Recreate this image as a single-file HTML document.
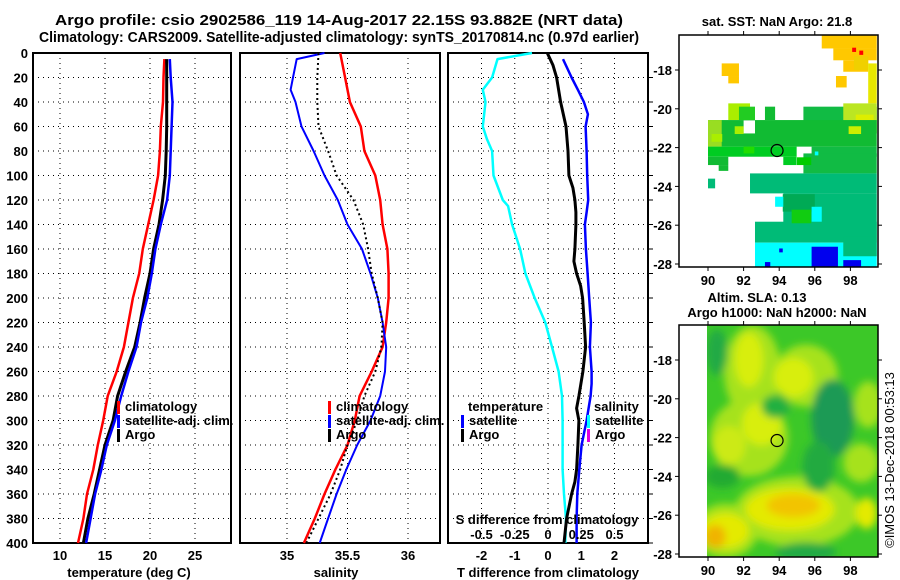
<!DOCTYPE html>
<html><head><meta charset="utf-8"><style>
body{margin:0;background:#fff;}
svg{display:block;font-family:"Liberation Sans",sans-serif;font-weight:bold;}
</style></head><body>
<svg id="fig" width="900" height="580" viewBox="0 0 900 580" xmlns="http://www.w3.org/2000/svg">
<rect width="900" height="580" fill="#fff"/>
<text x="339" y="25" font-size="14.5" text-anchor="middle" textLength="568" lengthAdjust="spacingAndGlyphs">Argo profile: csio 2902586_119 14-Aug-2017 22.15S 93.882E (NRT data)</text>
<text x="339" y="42" font-size="14.5" text-anchor="middle" textLength="600" lengthAdjust="spacingAndGlyphs">Climatology: CARS2009. Satellite-adjusted climatology: synTS_20170814.nc (0.97d earlier)</text>
<g id="g"></g>
</svg>
<script>
// ---------- data ----------
const depthTicks = [0,20,40,60,80,100,120,140,160,180,200,220,240,260,280,300,320,340,360,380,400];
const tempTicks = [10,15,20,25];
const salTicks = [35,35.5,36];
const salTickLabels = ['35','35.5','36'];
const tdiffTicks = [-2,-1,0,1,2];
const sdiffTicks = [-0.5,-0.25,0,0.25,0.5];
const sdiffTickLabels = ['-0.5','-0.25','0','0.25','0.5'];

const tempDepth = [5,20,40,60,80,100,120,140,160,180,200,220,240,260,280,300,320,340,360,380,400];
const tempClim = [21.6,21.5,21.44,21.2,21.1,20.9,20.4,19.8,19.2,18.8,18.1,17.6,17.1,16.3,15.3,14.8,14.2,13.7,13.0,12.6,12.0];
const tempArgo = [21.85,21.85,21.85,21.85,21.8,21.7,21.4,21.0,20.4,20.0,19.4,18.9,18.3,17.3,16.4,15.9,15.0,14.4,13.8,13.1,12.6];
const tempSat = [22.2,22.3,22.5,22.4,22.3,22.2,21.9,21.2,20.6,20.2,19.7,19.0,18.5,17.6,16.8,16.1,15.2,14.6,13.9,13.4,12.9];

const salDepth = [0,20,40,60,80,100,120,140,160,180,200,220,240,260,280,300,320,340,360,380,400];
const salClim = [35.44,35.48,35.52,35.61,35.64,35.73,35.77,35.79,35.83,35.84,35.84,35.82,35.79,35.70,35.60,35.56,35.50,35.40,35.31,35.23,35.14];
const salArgo = [35.26,35.25,35.25,35.26,35.34,35.41,35.55,35.63,35.67,35.70,35.75,35.79,35.78,35.73,35.64,35.58,35.50,35.44,35.36,35.26,35.16];
const salSatDepth = [0,5,20,30,40,60,80,100,120,140,160,180,200,220,240,260,280,300,320,340,360,380,400];
const salSat = [35.31,35.08,35.05,35.03,35.07,35.12,35.22,35.31,35.42,35.50,35.62,35.69,35.75,35.79,35.82,35.81,35.77,35.69,35.58,35.49,35.41,35.34,35.27];

const tdArgoDepth = [0,10,20,40,60,80,100,110,120,130,140,160,170,180,190,200,220,240,260,275,280,290,300,320,340,350,360,380,400];
const tdArgo = [-0.02,0.15,0.26,0.38,0.54,0.6,0.63,0.75,0.81,0.84,0.84,0.81,0.78,0.86,0.98,1.04,1.09,1.13,1.05,0.96,0.93,0.86,0.93,0.9,0.86,0.81,0.71,0.56,0.48];
const tdSatDepth = [5,20,30,40,50,60,80,100,120,130,140,160,180,200,220,240,260,270,280,300,320,340,360,380,400];
const tdSat = [0.45,0.71,0.9,1.08,1.2,1.13,1.16,1.18,1.21,1.16,1.11,1.14,1.19,1.24,1.29,1.26,1.31,1.31,1.28,1.16,1.01,0.94,0.88,0.86,0.86];
const sdSatDepth = [0,5,20,30,40,60,70,80,100,120,125,140,160,180,200,220,240,260,280,300,320,340,360,380,400];
const sdSat = [-0.12,-0.38,-0.42,-0.49,-0.47,-0.49,-0.46,-0.42,-0.41,-0.34,-0.30,-0.27,-0.21,-0.17,-0.10,-0.02,0.03,0.08,0.105,0.11,0.11,0.11,0.12,0.135,0.13];

const lonTicks = [90,92,94,96,98];
const latTicks = [-18,-20,-22,-24,-26,-28];
const argoLon = 93.88, argoLat = -22.15;
// SST cells: [lon1, lat1, lon2, lat2, colour]
const sstCells = [
 [96.39,-16.2,99.48,-16.89,'#ffc800'],[97.04,-16.89,99.48,-17.5,'#ffc800'],[97.6,-17.5,99.0,-18.09,'#ffc800'],
 [98.2,-17.3,99.0,-18.0,'#f0d000'],[99.0,-17.66,99.48,-19.72,'#e8e800'],
 [90.77,-17.66,91.74,-18.31,'#ffc800'],[91.14,-18.31,91.74,-18.69,'#ffc800'],[97.19,-18.31,97.79,-18.9,'#ffc800'],
 [98.1,-16.85,98.32,-17.07,'#ff0000'],[98.5,-17.0,98.72,-17.22,'#ff0000'],
 [91.14,-19.72,92.36,-20.58,'#aaee00'],[91.74,-19.89,92.64,-20.58,'#22cc22'],[93.2,-19.89,93.77,-20.58,'#11bb33'],
 [95.36,-19.89,99.48,-21.27,'#11bb44'],[97.6,-19.72,99.48,-21.27,'#bbe622'],[98.3,-20.3,99.3,-21.0,'#ddee00'],
 [90,-20.58,99.48,-21.95,'#11bb33'],[90,-20.58,90.77,-21.95,'#99dd22'],[92,-20.6,92.64,-21.27,'#ffffff'],
 [90,-21.95,94.98,-22.47,'#00cc22'],[95.82,-21.95,99.48,-22.47,'#11bb44'],
 [90,-22.47,91.14,-22.9,'#11bb33'],[90.6,-22.9,91.14,-23.2,'#11bb33'],[94.23,-22.47,94.98,-22.9,'#00cc22'],
 [95.36,-22.3,99.48,-23.33,'#11bb44'],
 [92.36,-23.33,99.48,-24.36,'#00bb77'],[90,-23.6,90.4,-24.1,'#00bb77'],[94.23,-24.36,99.48,-26.6,'#00bb77'],
 [92.64,-25.82,99.48,-26.9,'#00bb77'],[94.2,-24.4,96,-25.3,'#00aa55'],[94.7,-25.2,95.8,-25.9,'#11cc11'],
 [92.64,-26.9,99.48,-28.14,'#00ffff'],[93.77,-24.53,94.23,-25.05,'#00ffff'],[95.82,-25.05,96.39,-25.82,'#00ffff'],
 [97.6,-26.6,99.48,-27.6,'#00bb77'],
 [95.82,-27.11,97.3,-28.14,'#0000ee'],[97.6,-27.8,98.6,-28.14,'#0000ee'],[94,-27.2,94.2,-27.4,'#0000ee'],[93.2,-27.9,93.5,-28.14,'#0000ee'],
 [91.5,-20.9,92.0,-21.3,'#aaee00'],[90.2,-21.3,90.8,-21.7,'#aaee00'],[97.9,-20.9,98.6,-21.3,'#ccee00'],
 [92.0,-21.95,92.6,-22.3,'#22dd00'],[95.0,-22.5,95.8,-22.9,'#00cc00'],[96.0,-22.2,96.2,-22.4,'#00ffff']
];
// SLA blobs: [lon, lat, rxDeg, ryDeg, colour]
const slaBlobs = [
 [92.5,-18.6,1.6,2.4,'#a6e21e'],[95.5,-18.8,1.8,1.6,'#a6e21e'],[92.3,-22.0,2.2,2.0,'#a6e21e'],[95.0,-25.8,3.5,1.8,'#a6e21e'],
 [91.0,-26.8,1.8,1.4,'#a6e21e'],[99.0,-20.3,0.8,1.2,'#a6e21e'],[98.6,-23.3,1.0,1.0,'#a6e21e'],
 [90.5,-17.6,0.6,1.2,'#22aa44'],[92.3,-18.0,0.8,1.4,'#d8ee10'],[94.8,-18.9,1.1,1.0,'#d8ee10'],
 [93.0,-21.3,1.1,1.1,'#d8ee10'],[91.2,-22.4,0.9,1.0,'#ccea18'],[93.8,-20.4,0.8,0.6,'#22b040'],
 [97.0,-21.0,1.2,2.0,'#1f9a55'],[96.2,-23.5,0.9,1.3,'#22aa40'],
 [90.8,-24.0,1.0,0.6,'#22aa33'],[94.6,-25.7,2.5,1.1,'#e4ea00'],[94.8,-25.5,1.5,0.6,'#f2c400'],
 [91.0,-26.8,1.3,0.9,'#e4ea00'],[90.4,-27.1,0.6,0.6,'#f0b400'],[98.9,-25.9,0.6,0.8,'#e4ea00'],
 [95.5,-27.9,1.7,0.5,'#22aa44']
];

// ---------- helpers ----------
const NS='http://www.w3.org/2000/svg';
const G=document.getElementById('g');
function mk(tag,attrs,parent){const e=document.createElementNS(NS,tag);for(const k in attrs)e.setAttribute(k,attrs[k]);(parent||G).appendChild(e);return e;}
function txt(s,x,y,size,anchor,parent){const t=mk('text',{x:x,y:y,'font-size':size,'text-anchor':anchor||'middle'},parent);t.textContent=s;return t;}
const TOP=53,BOT=543;
const yD=d=>TOP+(BOT-TOP)*d/400;
const xT=t=>60+9*(t-10);
const xS=s=>287+121*(s-35);
const xTD=v=>548+33.25*v;
const xSD=v=>548+133*v;
const xLon=l=>708+17.8*(l-90);
const yLat1=l=>70-19.4*(l+18);
const yLat2=l=>360-19.4*(l+18);

function panel(name,x0,x1,vgrid,xf){
  const p=mk('g',{});
  
  
  depthTicks.slice(1,-1).forEach(d=>{const l=mk('line',{x1:x0,x2:x1,y1:yD(d),y2:yD(d),stroke:'#000','stroke-width':1,'stroke-dasharray':'1,4'},p);
    
    });
  vgrid.forEach(v=>{const l=mk('line',{x1:xf(v),x2:xf(v),y1:TOP,y2:BOT,stroke:'#000','stroke-width':1,'stroke-dasharray':'1,4'},p);
    
    });
  const r=mk('rect',{x:x0,y:TOP,width:x1-x0,height:BOT-TOP,fill:'none',stroke:'#000','stroke-width':2},p);
  
  
  return p;
}
function series(p,name,depths,vals,xf,color,w,dash){
  const pts=depths.map((d,i)=>xf(vals[i]).toFixed(1)+','+yD(d).toFixed(1)).join(' ');
  const a={points:pts,fill:'none',stroke:color,'stroke-width':w,'stroke-linejoin':'round'};
  if(dash)a['stroke-dasharray']=dash;
  const l=mk('polyline',a,p);
  
  
}
function legend(p,x,y,items){
  items.forEach((it,i)=>{
    const r=mk('rect',{x:x,y:y+i*14-10,width:3,height:13,fill:it[1]},p);
    
    
    const t=txt(it[0],x+8,y+i*14,13,'start',p);
    
    
  });
}

depthTicks.forEach(d=>{const t=txt(String(d),28,yD(d)+5,13,'end');
  
  });

const p1=panel('temperature-panel',33,231,tempTicks,xT);
series(p1,'temperature-climatology',tempDepth,tempClim,xT,'#f00',2.5);
series(p1,'temperature-argo',tempDepth,tempArgo,xT,'#000',3);
series(p1,'temperature-satellite-adj',tempDepth,tempSat,xT,'#00f',2.5);
legend(p1,117,411,[['climatology','#f00'],['satellite-adj. clim.','#00f'],['Argo','#000']]);
tempTicks.forEach(v=>{const t=txt(String(v),xT(v),560,13);
  
  });
{const t=txt('temperature (deg C)',129,577,13);}

const p2=panel('salinity-panel',240,440,salTicks,xS);
series(p2,'salinity-climatology',salDepth,salClim,xS,'#f00',2.5);
series(p2,'salinity-satellite-adj',salSatDepth,salSat,xS,'#00f',2);
series(p2,'salinity-argo',salDepth,salArgo,xS,'#000',2,'2,3');
legend(p2,328,411,[['climatology','#f00'],['satellite-adj. clim.','#00f'],['Argo','#000']]);
salTicks.forEach((v,i)=>{const t=txt(salTickLabels[i],xS(v),560,13);
  
  });
{const t=txt('salinity',336,577,13);}

const p3=panel('difference-panel',448,648,tdiffTicks,xTD);
series(p3,'salinity-diff-satellite',sdSatDepth,sdSat,xSD,'#00ffff',2.5);
series(p3,'temperature-diff-argo',tdArgoDepth,tdArgo,xTD,'#000',3);
series(p3,'temperature-diff-satellite',tdSatDepth,tdSat,xTD,'#00f',2.5);
{const t=txt('temperature',468,411,13,'start',p3);
 const t2=txt('salinity',594,411,13,'start',p3);}
legend(p3,461,425,[['satellite','#00f'],['Argo','#000']]);
legend(p3,587,425,[['satellite','#00ffff'],['Argo','#e000e0']]);
{const t=txt('S difference from climatology',547,524,13,'middle',p3);}
sdiffTicks.forEach((v,i)=>{const t=txt(sdiffTickLabels[i],xSD(v),539,13,'middle',p3);
  
  });
tdiffTicks.forEach(v=>{const t=txt(String(v),xTD(v),560,13);
  
  });
{const t=txt('T difference from climatology',548,577,13);}
depthTicks.slice(1).forEach(d=>{const l=mk('line',{x1:648,x2:653,y1:yD(d),y2:yD(d),stroke:'#000','stroke-width':1});
  
  });

function mapFrame(name){
  const m=mk('g',{});
  
  
  return m;
}
function mapAxes(m,yTop,yBot,yLat){
  const r=mk('rect',{x:679,y:yTop,width:199,height:yBot-yTop,fill:'none',stroke:'#000','stroke-width':1.5},m);
  
  
  lonTicks.forEach(l=>{
    mk('line',{x1:xLon(l),x2:xLon(l),y1:yTop,y2:yTop-4,stroke:'#000'},m);
    mk('line',{x1:xLon(l),x2:xLon(l),y1:yBot,y2:yBot+4,stroke:'#000'},m);
    const t=txt(String(l),xLon(l),yBot+18,13,'middle',m);
    
    
  });
  latTicks.forEach(l=>{
    mk('line',{x1:679,x2:675,y1:yLat(l),y2:yLat(l),stroke:'#000'},m);
    mk('line',{x1:878,x2:882,y1:yLat(l),y2:yLat(l),stroke:'#000'},m);
    const t=txt(String(l),672,yLat(l)+5,13,'end',m);
    
    
  });
  const c=mk('circle',{cx:xLon(argoLon),cy:yLat(argoLat),r:6,fill:'none',stroke:'#000','stroke-width':1.2},m);
  
  
}

const m1=mapFrame('sst-map');
{const t=txt('sat. SST: NaN Argo: 21.8',777,26,13,'middle',m1);}
sstCells.forEach(c=>{
  const x1=xLon(c[0]),x2=xLon(c[2]),y1=yLat1(c[1]),y2=yLat1(c[3]);
  const r=mk('rect',{x:x1,y:y1,width:x2-x1,height:y2-y1,fill:c[4]},m1);
  
  
});
mapAxes(m1,35,267,yLat1);

const m2=mapFrame('sla-map');
{const t=txt('Altim. SLA: 0.13',757,302,13,'middle',m2);
 const t2=txt('Argo h1000: NaN h2000: NaN',777,317,13,'middle',m2);}
const defs=mk('defs',{},m2);
const cp=mk('clipPath',{id:'slaclip'},defs);
mk('rect',{x:707,y:325,width:171,height:232},cp);
const flt=mk('filter',{id:'blur',x:'-50%',y:'-50%',width:'200%',height:'200%'},defs);
mk('feGaussianBlur',{stdDeviation:4},flt);
const sg=mk('g',{'clip-path':'url(#slaclip)'},m2);
{const b=mk('rect',{x:707,y:325,width:171,height:232,fill:'#3cc828'},sg);}
const bg=mk('g',{filter:'url(#blur)'},sg);
slaBlobs.forEach(b=>{
  const e=mk('ellipse',{cx:xLon(b[0]),cy:yLat2(b[1]),rx:b[2]*17.8,ry:b[3]*19.4,fill:b[4]},bg);
  
  
});
mapAxes(m2,325,557,yLat2);
{const t=mk('text',{x:0,y:0,'font-size':13,'font-weight':'normal','text-anchor':'middle',transform:'translate(894,460) rotate(-90)'});
 t.textContent='©IMOS 13-Dec-2018 00:53:13';
 
 }
</script>
</body></html>
